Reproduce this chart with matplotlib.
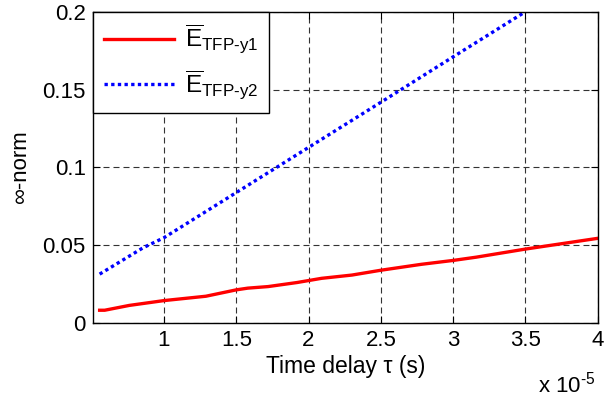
import matplotlib
matplotlib.use('Agg')
import matplotlib.pyplot as plt

plt.rcParams['font.family'] = ['Liberation Sans', 'DejaVu Sans']
plt.rcParams['mathtext.fontset'] = 'custom'
plt.rcParams['mathtext.rm'] = 'Liberation Sans'
plt.rcParams['mathtext.it'] = 'Liberation Sans'

# time delay in units of 1e-5 s
x_red = [0.555, 0.59, 0.76, 1.0, 1.29, 1.5, 1.58, 1.72, 1.92, 2.09, 2.3, 2.5, 2.78, 3.0, 3.16, 3.5, 4.0]
y_red = [0.0082, 0.0082, 0.0113, 0.0144, 0.0172, 0.0213, 0.0224, 0.0234, 0.026, 0.0287, 0.0308,
         0.0339, 0.0377, 0.0402, 0.0423, 0.0475, 0.0544]
x_blue = [0.555, 0.855, 1.0, 1.5, 2.0, 2.5, 3.0, 3.5]
y_blue = [0.0314, 0.0483, 0.0548, 0.0838, 0.1128, 0.1418, 0.171, 0.2]

lab_red = r'$\overline{\mathrm{E}}_{\mathrm{TFP\text{-}y1}}$'
lab_blue = r'$\overline{\mathrm{E}}_{\mathrm{TFP\text{-}y2}}$'

xticks = [1, 1.5, 2, 2.5, 3, 3.5, 4]
yticks = [0, 0.05, 0.1, 0.15, 0.2]

fig = plt.figure(figsize=(6.05, 4.03), dpi=100)
ax = fig.add_axes([0.1532, 0.1985, 0.8348, 0.7725])

ax.plot(x_red, y_red, c='r', lw=2.4, label=lab_red)
ax.plot(x_blue, y_blue, c='b', lw=2.4, ls=(0, (1, 1)), label=lab_blue)

ax.set_xlim(0.507, 4)
ax.set_ylim(0, 0.2)
ax.set_xticks(xticks)
ax.set_xticklabels(['1', '1.5', '2', '2.5', '3', '3.5', '4'])
ax.set_yticks(yticks)
ax.set_yticklabels(['0', '0.05', '0.1', '0.15', '0.2'])
ax.tick_params(direction='in', length=5, width=0.8, top=True, right=True, labelsize=16, pad=5)
ax.grid(True, color='#333333', lw=0.8, ls=(0, (5.4, 3.6)))
for s in ax.spines.values():
    s.set_linewidth(1)

ax.set_xlabel('Time delay \u03c4 (s)', size=16.5, labelpad=3)
ax.set_ylabel('\u221e-norm', size=16, labelpad=8)
fig.text(0.89, 0.025, r'x 10$^{\text{-}5}$', size=16)

leg = ax.legend(loc='upper left', borderaxespad=0, fancybox=False, edgecolor='black',
                framealpha=1, fontsize=17.5, handlelength=2.9, handletextpad=0.45,
                borderpad=0.45, labelspacing=0.5)
leg.get_frame().set_linewidth(1)

plt.savefig('out.png')
